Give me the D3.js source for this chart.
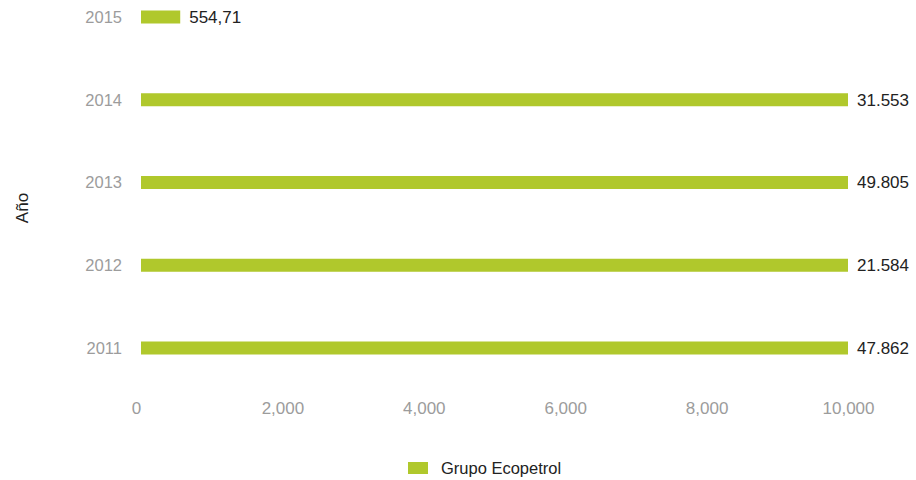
<!DOCTYPE html>
<html>
<head>
<meta charset="utf-8">
<script src="https://cdn.jsdelivr.net/npm/d3@7.9.0/dist/d3.min.js"></script>
<style>
  body { margin: 0; background: #fff; }
  svg { font-family: "Liberation Sans", Arial, sans-serif; }
</style>
</head>
<body>
<svg id="chart" width="916" height="480"></svg>
<script>
// data
const years = ['2011', '2012', '2013', '2014', '2015'];
const values = [47862, 21584, 49805, 31553, 554.71];
const valueLabels = ['47.862', '21.584', '49.805', '31.553', '554,71'];
const xTicks = [0, 2000, 4000, 6000, 8000, 10000];
const seriesName = 'Grupo Ecopetrol';

const barColor = '#b0c82c';
const svg = d3.select('#chart');

const x = d3.scaleLinear().domain([0, 10000]).range([141, 848]).clamp(true);
const y = d3.scalePoint().domain(years).range([348, 17]);
const barH = 13;

// bars
svg.selectAll('rect.bar')
    .data(years)
    .enter()
    .append('rect')
    .attr('class', 'bar')
    .attr('x', x(0))
    .attr('y', d => y(d) - barH / 2)
    .attr('width', (d, i) => x(values[i]) - x(0))
    .attr('height', barH)
    .attr('fill', barColor);

// value labels
svg.selectAll('text.val')
    .data(years)
    .enter()
    .append('text')
    .attr('class', 'val')
    .attr('x', (d, i) => x(values[i]) + 9)
    .attr('y', d => y(d))
    .attr('dy', '0.35em')
    .attr('font-size', 17)
    .attr('fill', '#222')
    .text((d, i) => valueLabels[i]);

// year axis labels
svg.selectAll('text.year')
    .data(years)
    .enter()
    .append('text')
    .attr('class', 'year')
    .attr('x', 122)
    .attr('y', d => y(d))
    .attr('dy', '0.35em')
    .attr('text-anchor', 'end')
    .attr('font-size', 16.5)
    .attr('fill', '#9c9c9c')
    .text(d => d);

// x axis
const xAxis = d3.axisBottom(x)
    .tickValues(xTicks)
    .tickSize(0)
    .tickPadding(0)
    .tickFormat(d3.format(','));

const gx = svg.append('g')
    .attr('transform', 'translate(0,402)')
    .call(xAxis);
gx.select('.domain').remove();
gx.selectAll('text')
    .attr('font-family', '"Liberation Sans", Arial, sans-serif')
    .attr('font-size', 17)
    .attr('fill', '#9c9c9c');
gx.selectAll('.tick').filter(d => d === 0).select('text').attr('x', -5);

// y title
svg.append('text')
    .attr('transform', 'translate(28,208) rotate(-90)')
    .attr('text-anchor', 'middle')
    .attr('font-size', 17)
    .attr('fill', '#222')
    .text('Año');

// legend
const lg = svg.append('g').attr('transform', 'translate(408,462)');
lg.append('rect').attr('width', 20).attr('height', 12).attr('fill', barColor);
lg.append('text')
    .attr('x', 33)
    .attr('y', 6)
    .attr('dy', '0.35em')
    .attr('font-size', 16.5)
    .attr('fill', '#222')
    .text(seriesName);
</script>
</body>
</html>
